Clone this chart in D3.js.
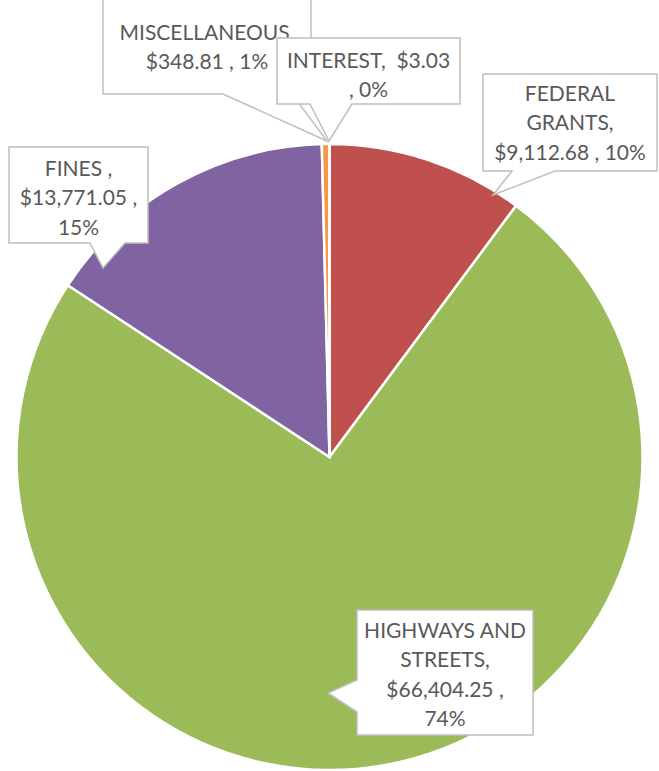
<!DOCTYPE html>
<html>
<head>
<meta charset="utf-8">
<script src="https://cdn.jsdelivr.net/npm/d3@7"></script>
<style>
  html, body { margin: 0; padding: 0; background: #fff; }
  svg { display: block; }
  text { white-space: pre; }
</style>
</head>
<body>
<svg id="chart" width="659" height="771"></svg>
<script>
// ---- data ----
const categories = ["FEDERAL GRANTS", "HIGHWAYS AND STREETS", "FINES", "MISCELLANEOUS", "INTEREST"];
const values = [9112.68, 66404.25, 13771.05, 348.81, 3.03];
const percentLabels = ["10%", "74%", "15%", "1%", "0%"];
const colors = ["#C0504D", "#9BBB59", "#8064A2", "#F79646", "#4BACC6"];
// label text broken into lines as in the picture
const labelLines = [
  ["FEDERAL", "GRANTS,", "$9,112.68 , 10%"],
  ["HIGHWAYS AND", "STREETS,", "$66,404.25 ,", "74%"],
  ["FINES ,", "$13,771.05 ,", "15%"],
  ["MISCELLANEOUS,", "$348.81 , 1%"],
  ["INTEREST,  $3.03", ", 0%"]
];

// ---- layout (callout boxes) ----
const callouts = [
  { box: [483, 74, 657, 171], side: "bottom", base: [512, 555], tip: [493, 195], firstLine: 93 },
  { box: [357, 610, 533, 735], side: "left", base: [680, 712], tip: [328, 693], firstLine: 630 },
  { box: [9, 147, 148, 243], side: "bottom", base: [90, 125], tip: [103, 268], firstLine: 168 },
  { box: [103, -6, 311, 94], side: "bottom", base: [223, 292], tip: [327, 141], firstLine: 32 },
  { box: [277, 38, 460, 104], side: "bottom", base: [310, 352], tip: [329, 141], firstLine: 60 }
];

const svg = d3.select("#chart");
const cx = 329.5, cy = 457, r = 313;

const pie = d3.pie().sort(null).value(d => d.value).startAngle(0).endAngle(2 * Math.PI);
const data = categories.map((c, i) => ({ cat: c, value: values[i], color: colors[i] }));
const arcs = pie(data);
const arcGen = d3.arc().innerRadius(0).outerRadius(r);

const g = svg.append("g").attr("transform", `translate(${cx},${cy})`);
g.selectAll("path.slice")
  .data(arcs)
  .enter().append("path")
  .attr("class", "slice")
  .attr("d", arcGen)
  .attr("fill", d => d.data.color)
  .attr("stroke", "#fff")
  .attr("stroke-width", 2.5)
  .attr("stroke-linejoin", "miter");

function calloutPath(c) {
  const [x0, y0, x1, y1] = c.box;
  const p = d3.path();
  if (c.side === "bottom") {
    p.moveTo(x0, y0);
    p.lineTo(x1, y0);
    p.lineTo(x1, y1);
    p.lineTo(c.base[1], y1);
    p.lineTo(c.tip[0], c.tip[1]);
    p.lineTo(c.base[0], y1);
    p.lineTo(x0, y1);
    p.closePath();
  } else if (c.side === "left") {
    p.moveTo(x0, y0);
    p.lineTo(x1, y0);
    p.lineTo(x1, y1);
    p.lineTo(x0, y1);
    p.lineTo(x0, c.base[1]);
    p.lineTo(c.tip[0], c.tip[1]);
    p.lineTo(x0, c.base[0]);
    p.closePath();
  }
  return p.toString();
}

const lineH = 29.5;
[0, 1, 2, 3, 4].forEach(i => {
  const c = callouts[i];
  const lg = svg.append("g").attr("class", "callout");
  lg.append("path")
    .attr("d", calloutPath(c))
    .attr("fill", "#fff")
    .attr("stroke", "#BFBFBF")
    .attr("stroke-width", 1.5);
  const tx = (c.box[0] + c.box[2]) / 2;
  lg.append("text")
    .attr("text-anchor", "middle")
    .attr("font-family", "Lato, 'Open Sans', sans-serif")
    .attr("font-size", 21)
    .attr("fill", "#595959")
    .selectAll("tspan")
    .data(labelLines[i])
    .enter().append("tspan")
    .attr("x", tx)
    .attr("y", (d, k) => c.firstLine + k * lineH)
    .attr("dy", "0.36em")
    .text(d => d);
});
</script>
</body>
</html>
